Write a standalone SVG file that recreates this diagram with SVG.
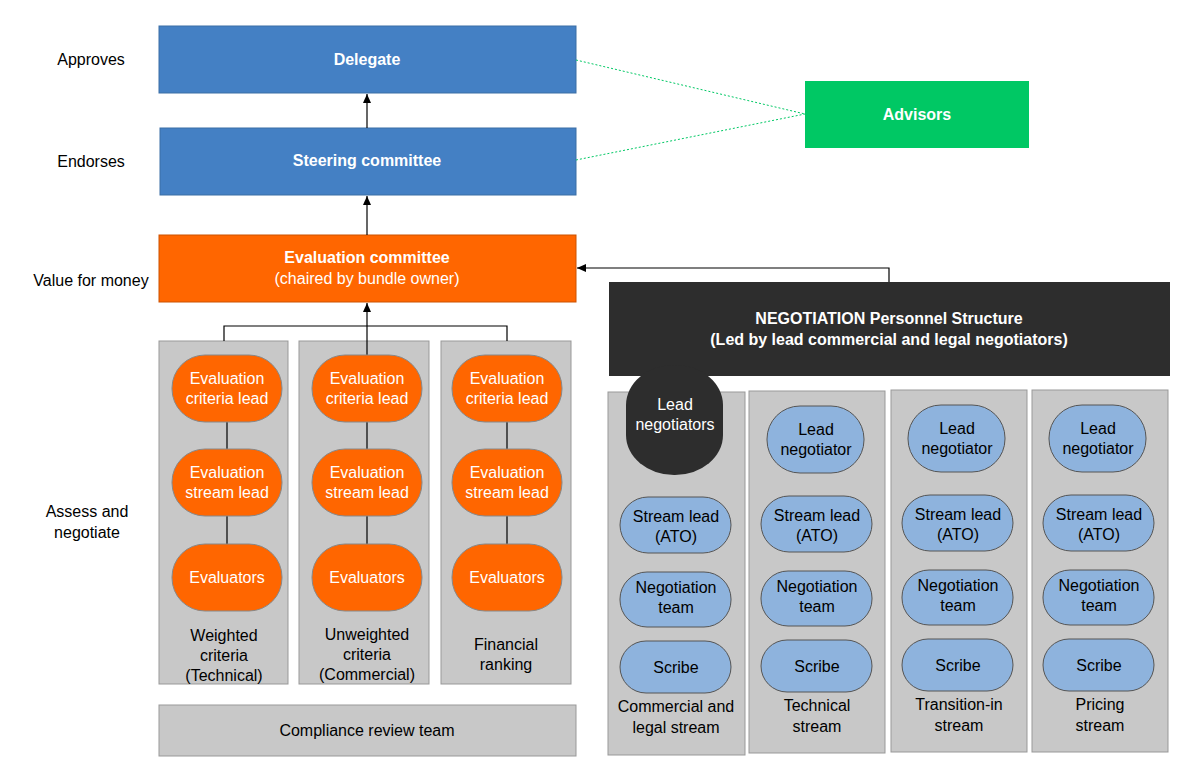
<svg xmlns="http://www.w3.org/2000/svg" width="1200" height="783" viewBox="0 0 1200 783">
<defs>
<marker id="ar" markerWidth="10" markerHeight="10" refX="9" refY="5" orient="auto" markerUnits="userSpaceOnUse"><path d="M0,1 L9,5 L0,9 z" fill="#000"/></marker>
<style>
text{font-family:"Liberation Sans",Arial,sans-serif;font-size:16px;text-anchor:middle;fill:#000}
.w{fill:#fff}.b{font-weight:bold}
.blue{fill:#4480c4;stroke:#3a6ea5}
.grey{fill:#c8c8c8;stroke:#999}
.or{fill:#ff6600;stroke:#888}
.lb{fill:#8eb3dd;stroke:#555}
.ln{stroke:#000;fill:none;stroke-width:1.2}
</style>
</defs>
<rect width="1200" height="783" fill="#fff"/>
<g font-size="16">
<text x="91" y="65">Approves</text>
<text x="91" y="167">Endorses</text>
<text x="91" y="286">Value for money</text>
<text x="87" y="517">Assess and</text>
<text x="87" y="538">negotiate</text>
</g>
<g id="delegate"><rect class="blue" x="159" y="26" width="417" height="67"/><text class="w b" x="367" y="65">Delegate</text></g>
<g id="steering"><rect class="blue" x="160" y="128" width="416" height="67"/><text class="w b" x="367" y="166">Steering committee</text></g>
<g id="advisors"><rect x="805" y="81" width="224" height="67" fill="#00c864"/><text class="w b" x="917" y="120">Advisors</text></g>
<g id="evalcomm"><rect x="159" y="235" width="417" height="67" fill="#ff6600" stroke="#cc5200"/><text class="w b" x="367" y="263">Evaluation committee</text><text class="w" x="367" y="284">(chaired by bundle owner)</text></g>
<g id="col1"><rect class="grey" x="159" y="341" width="129" height="343"/>
<text x="224" y="641">Weighted</text><text x="224" y="661">criteria</text><text x="224" y="681">(Technical)</text></g>
<g id="col2"><rect class="grey" x="299" y="341" width="130" height="343"/>
<text x="367" y="640">Unweighted</text><text x="367" y="660">criteria</text><text x="367" y="680">(Commercial)</text></g>
<g id="col3"><rect class="grey" x="441" y="341" width="130" height="343"/>
<text x="506" y="650">Financial</text><text x="506" y="670">ranking</text></g>
<g id="connectors">
<line class="ln" x1="367" y1="128" x2="367" y2="94" marker-end="url(#ar)"/>
<line class="ln" x1="367" y1="235" x2="367" y2="196" marker-end="url(#ar)"/>
<line x1="576" y1="60" x2="805" y2="114" stroke="#00c864" stroke-dasharray="2,2"/>
<line x1="576" y1="160" x2="805" y2="114" stroke="#00c864" stroke-dasharray="2,2"/>
<polyline class="ln" points="224,341 224,326 507,326 507,341"/>
<line class="ln" x1="367" y1="355" x2="367" y2="303" marker-end="url(#ar)"/>
<polyline class="ln" points="889,282 889,268 577,268" marker-end="url(#ar)"/>
<line class="ln" x1="227" y1="422" x2="227" y2="449"/><line class="ln" x1="227" y1="516" x2="227" y2="544"/>
<line class="ln" x1="367" y1="422" x2="367" y2="449"/><line class="ln" x1="367" y1="516" x2="367" y2="544"/>
<line class="ln" x1="507" y1="422" x2="507" y2="449"/><line class="ln" x1="507" y1="516" x2="507" y2="544"/>
</g>
<g id="c1n1"><rect class="or" x="172" y="355" width="110" height="67" rx="33"/><text class="w" x="227" y="384">Evaluation</text><text class="w" x="227" y="404">criteria lead</text></g>
<g id="c1n2"><rect class="or" x="172" y="449" width="110" height="67" rx="33"/><text class="w" x="227" y="478">Evaluation</text><text class="w" x="227" y="498">stream lead</text></g>
<g id="c1n3"><rect class="or" x="172" y="544" width="110" height="67" rx="33"/><text class="w" x="227" y="583">Evaluators</text></g>
<g id="c2n1"><rect class="or" x="312" y="355" width="110" height="67" rx="33"/><text class="w" x="367" y="384">Evaluation</text><text class="w" x="367" y="404">criteria lead</text></g>
<g id="c2n2"><rect class="or" x="312" y="449" width="110" height="67" rx="33"/><text class="w" x="367" y="478">Evaluation</text><text class="w" x="367" y="498">stream lead</text></g>
<g id="c2n3"><rect class="or" x="312" y="544" width="110" height="67" rx="33"/><text class="w" x="367" y="583">Evaluators</text></g>
<g id="c3n1"><rect class="or" x="452" y="355" width="110" height="67" rx="33"/><text class="w" x="507" y="384">Evaluation</text><text class="w" x="507" y="404">criteria lead</text></g>
<g id="c3n2"><rect class="or" x="452" y="449" width="110" height="67" rx="33"/><text class="w" x="507" y="478">Evaluation</text><text class="w" x="507" y="498">stream lead</text></g>
<g id="c3n3"><rect class="or" x="452" y="544" width="110" height="67" rx="33"/><text class="w" x="507" y="583">Evaluators</text></g>
<g id="compliance"><rect class="grey" x="159" y="705" width="417" height="51"/><text x="367" y="736">Compliance review team</text></g>
<g id="r1"><rect class="grey" x="608" y="392" width="137" height="363"/><text x="676" y="712">Commercial and</text><text x="676" y="733">legal stream</text></g>
<g id="r2"><rect class="grey" x="749" y="391" width="136" height="362"/><text x="817" y="711">Technical</text><text x="817" y="732">stream</text></g>
<g id="r3"><rect class="grey" x="891" y="390" width="136" height="362"/><text x="959" y="710">Transition-in</text><text x="959" y="731">stream</text></g>
<g id="r4"><rect class="grey" x="1032" y="390" width="136" height="362"/><text x="1100" y="710">Pricing</text><text x="1100" y="731">stream</text></g>
<g id="negotiation"><rect x="609" y="282" width="561" height="94" fill="#2d2d2d"/><text class="w b" x="889" y="324">NEGOTIATION Personnel Structure</text><text class="w b" x="889" y="345">(Led by lead commercial and legal negotiators)</text></g>
<g id="leadnegs"><rect x="626" y="365" width="97" height="110" rx="48" ry="40" fill="#2d2d2d"/><text class="w" x="675" y="410">Lead</text><text class="w" x="675" y="430">negotiators</text></g>
<g id="ln2"><rect class="lb" x="767" y="406" width="97" height="67" rx="33"/><text x="816" y="435">Lead</text><text x="816" y="455">negotiator</text></g>
<g id="ln3"><rect class="lb" x="908" y="405" width="97" height="67" rx="33"/><text x="957" y="434">Lead</text><text x="957" y="454">negotiator</text></g>
<g id="ln4"><rect class="lb" x="1049" y="405" width="97" height="67" rx="33"/><text x="1098" y="434">Lead</text><text x="1098" y="454">negotiator</text></g>
<g id="sl1"><rect class="lb" x="620" y="497" width="111" height="56" rx="28"/><text x="676" y="522">Stream lead</text><text x="676" y="542">(ATO)</text></g>
<g id="sl2"><rect class="lb" x="761" y="496" width="111" height="56" rx="28"/><text x="817" y="521">Stream lead</text><text x="817" y="541">(ATO)</text></g>
<g id="sl3"><rect class="lb" x="902" y="495" width="111" height="56" rx="28"/><text x="958" y="520">Stream lead</text><text x="958" y="540">(ATO)</text></g>
<g id="sl4"><rect class="lb" x="1043" y="495" width="111" height="56" rx="28"/><text x="1099" y="520">Stream lead</text><text x="1099" y="540">(ATO)</text></g>
<g id="nt1"><rect class="lb" x="620" y="572" width="111" height="55" rx="27"/><text x="676" y="593">Negotiation</text><text x="676" y="613">team</text></g>
<g id="nt2"><rect class="lb" x="761" y="571" width="111" height="55" rx="27"/><text x="817" y="592">Negotiation</text><text x="817" y="612">team</text></g>
<g id="nt3"><rect class="lb" x="902" y="570" width="111" height="55" rx="27"/><text x="958" y="591">Negotiation</text><text x="958" y="611">team</text></g>
<g id="nt4"><rect class="lb" x="1043" y="570" width="111" height="55" rx="27"/><text x="1099" y="591">Negotiation</text><text x="1099" y="611">team</text></g>
<g id="s1"><rect class="lb" x="620" y="641" width="111" height="52" rx="26"/><text x="676" y="673">Scribe</text></g>
<g id="s2"><rect class="lb" x="761" y="640" width="111" height="52" rx="26"/><text x="817" y="672">Scribe</text></g>
<g id="s3"><rect class="lb" x="902" y="639" width="111" height="52" rx="26"/><text x="958" y="671">Scribe</text></g>
<g id="s4"><rect class="lb" x="1043" y="639" width="111" height="52" rx="26"/><text x="1099" y="671">Scribe</text></g>
</svg>
